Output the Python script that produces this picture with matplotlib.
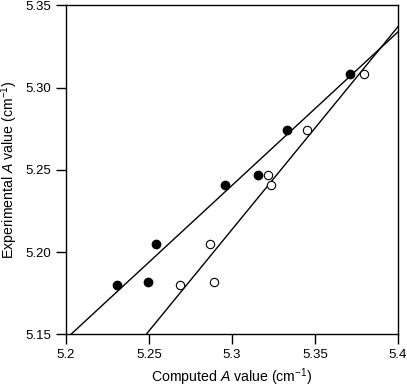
import numpy as np
import matplotlib
matplotlib.use("Agg")
import matplotlib.pyplot as plt

plt.rcParams['font.family'] = ['Liberation Sans', 'DejaVu Sans']
plt.rcParams['mathtext.fontset'] = 'custom'
plt.rcParams['mathtext.rm'] = 'Liberation Sans'
plt.rcParams['mathtext.it'] = 'Liberation Sans:italic'

# 实验值 (两组计算值对应同一组实验值)
exp_filled = [5.180, 5.182, 5.205, 5.241, 5.247, 5.274, 5.308]
calc_filled = [5.231, 5.2495, 5.254, 5.296, 5.316, 5.333, 5.371]
calc_open = [5.269, 5.289, 5.287, 5.3235, 5.322, 5.345, 5.3795]
exp_open = [5.180, 5.182, 5.205, 5.241, 5.247, 5.274, 5.308]

xticks = [5.2, 5.25, 5.3, 5.35, 5.4]
xtick_labels = ["5.2", "5.25", "5.3", "5.35", "5.4"]
yticks = [5.15, 5.20, 5.25, 5.30, 5.35]
ytick_labels = ["5.15", "5.20", "5.25", "5.30", "5.35"]

fig = plt.figure(figsize=(4.07, 3.87), dpi=100)
ax = fig.add_axes([0.1622, 0.1362, 0.815, 0.850])

xs = np.array([5.19, 5.41])
for cx, ey in [(calc_filled, exp_filled), (calc_open, exp_open)]:
    k, b = np.polyfit(cx, ey, 1)  # 线性回归
    ax.plot(xs, k * xs + b, color='black', lw=1.0, zorder=2)

ax.plot(calc_filled, exp_filled, 'o', ms=6, mfc='black', mec='black', zorder=3)
ax.plot(calc_open, exp_open, 'o', ms=6, mfc='white', mec='black', mew=0.8, zorder=3)

ax.set_xlim(5.2, 5.4)
ax.set_ylim(5.15, 5.35)
ax.set_xticks(xticks)
ax.set_xticklabels(xtick_labels)
ax.set_yticks(yticks)
ax.set_yticklabels(ytick_labels)
ax.tick_params(direction='out', length=7, width=1, labelsize=9.5, pad=3.5)
for s in ax.spines.values():
    s.set_linewidth(1.0)

ax.set_xlabel(r"Computed $A$ value (cm$^{-1}$)", fontsize=10.2, labelpad=4)
fig.text(9.5 / 407, 0.561, r"Experimental $A$ value (cm$^{-1}$)", fontsize=10.2,
         rotation=90, ha='center', va='center')

fig.savefig("out.png", dpi=100)
